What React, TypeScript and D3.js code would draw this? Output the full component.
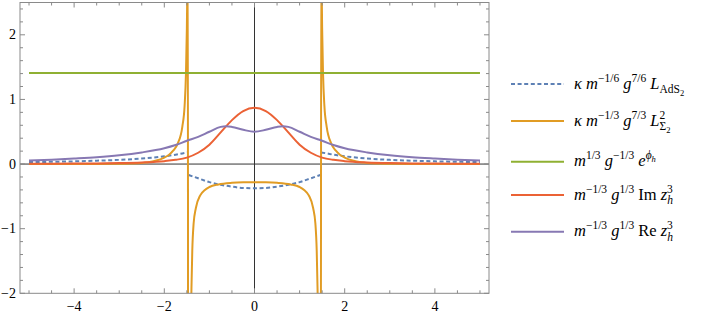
import { useMemo } from 'react'
import { curveMonotoneX, line, range, scaleLinear } from 'd3'

// values (x, then each curve)
const X_FULL = [-5, -4.5, -4, -3.5, -3, -2.5, -2, -1.75, -1.5, -1.25, -1, -0.75, -0.5, -0.25, 0, 0.25, 0.5, 0.75, 1, 1.25, 1.5, 1.75, 2, 2.5, 3, 3.5, 4, 4.5, 5]
const IM_Z = [0.004, 0.005, 0.007, 0.01, 0.015, 0.025, 0.045, 0.065, 0.1, 0.175, 0.3, 0.49, 0.68, 0.82, 0.87, 0.82, 0.68, 0.49, 0.3, 0.175, 0.1, 0.065, 0.045, 0.025, 0.015, 0.01, 0.007, 0.005, 0.004]

const X_RE = [-5, -4.5, -4, -3.5, -3, -2.5, -2, -1.75, -1.5, -1.25, -1, -0.75, -0.625, -0.5, -0.25, 0, 0.25, 0.5, 0.625, 0.75, 1, 1.25, 1.5, 1.75, 2, 2.5, 3, 3.5, 4, 4.5, 5]
const RE_Z = [0.055, 0.068, 0.085, 0.105, 0.135, 0.18, 0.245, 0.295, 0.36, 0.42, 0.5, 0.575, 0.585, 0.575, 0.53, 0.5, 0.53, 0.575, 0.585, 0.575, 0.5, 0.42, 0.36, 0.295, 0.245, 0.18, 0.135, 0.105, 0.085, 0.068, 0.055]

const X_PHI = [-5, 5]
const E_PHI = [1.41, 1.41]

// L_AdS2: three pieces, split at the poles
const X_ADS_L = [-5, -4.5, -4, -3.5, -3, -2.5, -2, -1.75, -1.6, -1.48]
const ADS_L = [0.03, 0.035, 0.042, 0.052, 0.065, 0.085, 0.12, 0.145, 0.165, 0.18]
const X_ADS_M = [-1.46, -1.25, -1, -0.75, -0.5, -0.25, 0, 0.25, 0.5, 0.75, 1, 1.25, 1.46]
const ADS_M = [-0.17, -0.22, -0.28, -0.32, -0.35, -0.37, -0.375, -0.37, -0.35, -0.32, -0.28, -0.22, -0.17]
const X_ADS_R = [1.48, 1.6, 1.75, 2, 2.5, 3, 3.5, 4, 4.5, 5]
const ADS_R = [0.18, 0.165, 0.145, 0.12, 0.085, 0.065, 0.052, 0.042, 0.035, 0.03]

// L_Sigma2^2: one path, jumps through the poles
const X_SIG = [
  -5, -4, -3.5, -3, -2.75, -2.5, -2.4, -2.2, -2, -1.9, -1.8, -1.7, -1.6, -1.55, -1.52, -1.5, -1.49, -1.48,
  -1.47, -1.43, -1.4, -1.38, -1.35, -1.3, -1.2, -1.1, -1, -0.8, -0.5, -0.25, 0, 0.25, 0.5, 0.8, 1, 1.1, 1.2, 1.3, 1.35, 1.38, 1.4, 1.43, 1.47,
  1.48, 1.49, 1.5, 1.52, 1.55, 1.6, 1.7, 1.8, 1.9, 2, 2.2, 2.4, 2.5, 2.75, 3, 3.5, 4, 5,
]
const SIG = [
  0.0005, 0.001, 0.002, 0.004, 0.008, 0.015, 0.025, 0.05, 0.1, 0.14, 0.21, 0.32, 0.58, 0.9, 1.4, 2.1, 2.7, 3.4,
  -4.5, -3.2, -2.0, -1.35, -0.92, -0.68, -0.48, -0.4, -0.355, -0.315, -0.29, -0.282, -0.28, -0.282, -0.29, -0.315, -0.355, -0.4, -0.48, -0.68, -0.92, -1.35, -2.0, -3.2, -4.5,
  3.4, 2.7, 2.1, 1.4, 0.9, 0.58, 0.32, 0.21, 0.14, 0.1, 0.05, 0.025, 0.015, 0.008, 0.004, 0.002, 0.001, 0.0005,
]

const X_TICKS = [-4, -2, 0, 2, 4]
const Y_TICKS = [-2, -1, 0, 1, 2]

const BLUE = '#5E81B5'
const ORANGE = '#E19C24'
const GREEN = '#8FB032'
const RED = '#EB6235'
const PURPLE = '#8778B3'

const W = 708
const H = 318
const PLOT = { left: 20, right: 489, top: 2.5, bottom: 293.3 }
const SERIF = 'Liberation Serif'
const LEG = { x1: 511, x2: 564, tx: 574, rows: [84, 121, 161.7, 195, 231.7] }

const zip = (xs: number[], ys: number[]) => xs.map((x, i) => [x, ys[i]] as [number, number])

function LegendLabel({ i, y }: { i: number; y: number }) {
  const base = { x: LEG.tx, y: y + 4.5, style: { fontFamily: SERIF, fontSize: 16.5 }, fill: '#000' }
  const sup = { style: { fontSize: 11.5 } }
  const sub2 = { style: { fontSize: 8.5 } }
  if (i === 0)
    return (
      <text {...base}>
        <tspan fontStyle="italic">κ m</tspan>
        <tspan {...sup} dy={-7}>−1/6</tspan>
        <tspan fontStyle="italic" dy={7}> g</tspan>
        <tspan {...sup} dy={-7}>7/6</tspan>
        <tspan fontStyle="italic" dy={7}> L</tspan>
        <tspan {...sup} dy={4.5}>AdS</tspan>
        <tspan {...sub2} dy={2.5}>2</tspan>
      </text>
    )
  if (i === 1)
    return (
      <text {...base}>
        <tspan fontStyle="italic">κ m</tspan>
        <tspan {...sup} dy={-7}>−1/3</tspan>
        <tspan fontStyle="italic" dy={7}> g</tspan>
        <tspan {...sup} dy={-7}>7/3</tspan>
        <tspan fontStyle="italic" dy={7}> L</tspan>
        <tspan {...sup} dy={4.5}>Σ</tspan>
        <tspan {...sub2} dy={2.5}>2</tspan>
        <tspan {...sup} dx={-11} dy={-14}>2</tspan>
      </text>
    )
  if (i === 2)
    return (
      <text {...base}>
        <tspan fontStyle="italic">m</tspan>
        <tspan {...sup} dy={-7}>1/3</tspan>
        <tspan fontStyle="italic" dy={7}> g</tspan>
        <tspan {...sup} dy={-7}>−1/3</tspan>
        <tspan fontStyle="italic" dy={7}> e</tspan>
        <tspan {...sup} fontStyle="italic" dy={-7}>ϕ</tspan>
        <tspan {...sub2} fontStyle="italic" dy={2.5}>h</tspan>
      </text>
    )
  const word = i === 3 ? 'Im' : 'Re'
  return (
    <text {...base}>
      <tspan fontStyle="italic">m</tspan>
      <tspan {...sup} dy={-7}>−1/3</tspan>
      <tspan fontStyle="italic" dy={7}> g</tspan>
      <tspan {...sup} dy={-7}>1/3</tspan>
      <tspan dy={7}> {word} </tspan>
      <tspan fontStyle="italic">z</tspan>
      <tspan {...sup} fontStyle="italic" dy={4.5}>h</tspan>
      <tspan {...sup} dx={-6} dy={-11.5}>3</tspan>
    </text>
  )
}

export default function App() {
  const x = useMemo(() => scaleLinear().domain([-5.2, 5.2]).range([PLOT.left, PLOT.right]), [])
  const y = useMemo(() => scaleLinear().domain([-2, 2.5]).range([PLOT.bottom, PLOT.top]), [])
  const path = line<[number, number]>()
    .x((d) => x(d[0]))
    .y((d) => y(d[1]))
    .curve(curveMonotoneX)

  const xMinor = range(-5, 5.01, 0.5)
  const yMinor = range(-2, 2.51, 0.2)
  const frame = '#8a8a8a'

  const series = [
    { key: 'adsL', d: path(zip(X_ADS_L, ADS_L)), c: BLUE, dash: '4,2.6' },
    { key: 'adsM', d: path(zip(X_ADS_M, ADS_M)), c: BLUE, dash: '4,2.6' },
    { key: 'adsR', d: path(zip(X_ADS_R, ADS_R)), c: BLUE, dash: '4,2.6' },
    { key: 'sig', d: path(zip(X_SIG, SIG)), c: ORANGE },
    { key: 'phi', d: path(zip(X_PHI, E_PHI)), c: GREEN },
    { key: 'im', d: path(zip(X_FULL, IM_Z)), c: RED },
    { key: 're', d: path(zip(X_RE, RE_Z)), c: PURPLE },
  ]
  const legend = [
    { c: BLUE, dash: '4,2.6' },
    { c: ORANGE },
    { c: GREEN },
    { c: RED },
    { c: PURPLE },
  ]

  return (
    <svg width={W} height={H} style={{ position: 'absolute', left: 0, top: 0, background: '#fff' }}>
      <defs>
        <clipPath id="plotClip">
          <rect x={PLOT.left} y={PLOT.top} width={PLOT.right - PLOT.left} height={PLOT.bottom - PLOT.top} />
        </clipPath>
      </defs>

      {/* axes through the origin */}
      <line x1={x(0)} x2={x(0)} y1={PLOT.top} y2={PLOT.bottom} stroke="#333" strokeWidth={1} />
      <line x1={PLOT.left} x2={PLOT.right} y1={y(0)} y2={y(0)} stroke="#333" strokeWidth={1} />

      <g clipPath="url(#plotClip)" fill="none" strokeWidth={2} strokeLinejoin="round">
        {series.map((s) => (
          <path key={s.key} d={s.d ?? ''} stroke={s.c} strokeDasharray={s.dash} />
        ))}
      </g>

      {/* frame with inward ticks on all sides */}
      <rect x={PLOT.left} y={PLOT.top} width={PLOT.right - PLOT.left} height={PLOT.bottom - PLOT.top} fill="none" stroke={frame} strokeWidth={1} />
      <g stroke={frame} strokeWidth={1}>
        {xMinor.map((v) => {
          const major = X_TICKS.includes(Math.round(v * 10) / 10)
          const len = major ? 5 : 3
          return (
            <g key={`xt${v}`}>
              <line x1={x(v)} x2={x(v)} y1={PLOT.bottom} y2={PLOT.bottom - len} />
              <line x1={x(v)} x2={x(v)} y1={PLOT.top} y2={PLOT.top + len} />
            </g>
          )
        })}
        {yMinor.map((v) => {
          const major = Y_TICKS.includes(Math.round(v * 10) / 10)
          const len = major ? 5 : 3
          return (
            <g key={`yt${v}`}>
              <line x1={PLOT.left} x2={PLOT.left + len} y1={y(v)} y2={y(v)} />
              <line x1={PLOT.right} x2={PLOT.right - len} y1={y(v)} y2={y(v)} />
            </g>
          )
        })}
      </g>

      <g style={{ fontFamily: SERIF, fontSize: 14 }} fill="#000">
        {X_TICKS.map((v) => (
          <text key={`xl${v}`} x={x(v)} y={PLOT.bottom + 18} textAnchor="middle">
            {v < 0 ? `−${-v}` : v}
          </text>
        ))}
        {Y_TICKS.map((v) => (
          <text key={`yl${v}`} x={PLOT.left - 4} y={y(v)} dy="0.33em" textAnchor="end">
            {v < 0 ? `−${-v}` : v}
          </text>
        ))}
      </g>

      {legend.map((l, i) => (
        <g key={`lg${i}`}>
          <line x1={LEG.x1} x2={LEG.x2} y1={LEG.rows[i]} y2={LEG.rows[i]} stroke={l.c} strokeWidth={2} strokeDasharray={l.dash} />
          <LegendLabel i={i} y={LEG.rows[i]} />
        </g>
      ))}
    </svg>
  )
}
